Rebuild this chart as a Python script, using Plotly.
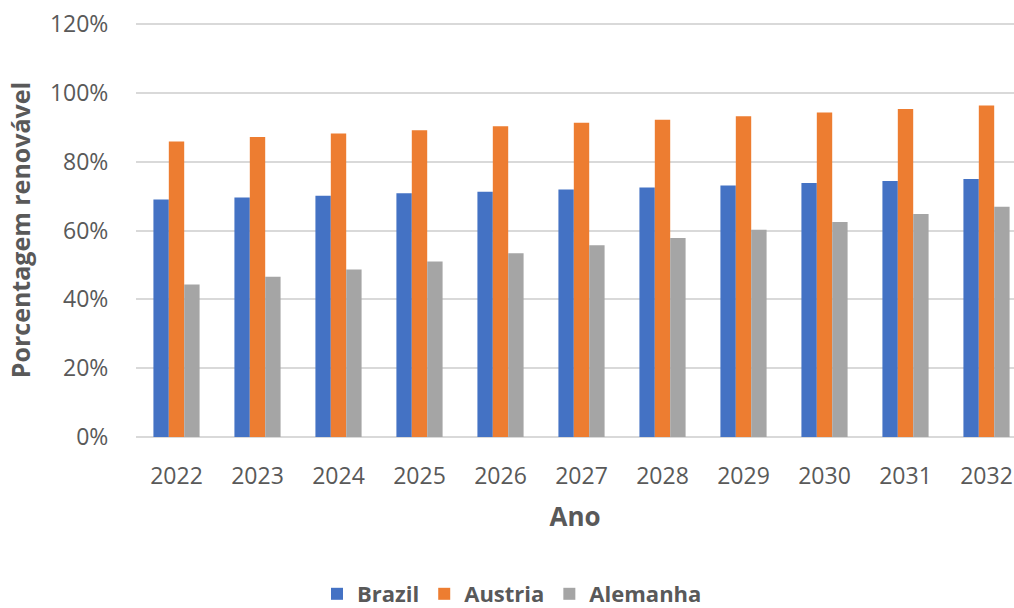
import plotly.graph_objects as go

years = ["2022", "2023", "2024", "2025", "2026", "2027", "2028", "2029", "2030", "2031", "2032"]
brazil = [69.0, 69.6, 70.1, 70.8, 71.3, 71.9, 72.5, 73.1, 73.8, 74.4, 75.0]
austria = [85.9, 87.2, 88.2, 89.1, 90.3, 91.3, 92.2, 93.2, 94.3, 95.3, 96.3]
alemanha = [44.3, 46.6, 48.7, 51.0, 53.4, 55.7, 57.8, 60.2, 62.5, 64.8, 66.9]
y_ticks = [0, 20, 40, 60, 80, 100, 120]
y_tick_labels = ["0%", "20%", "40%", "60%", "80%", "100%", "120%"]

series = [("Brazil", brazil, "#4472C4"), ("Austria", austria, "#ED7D31"), ("Alemanha", alemanha, "#A5A5A5")]

FONT = "Open Sans"
TXT = "#595959"

fig = go.Figure()
for name, vals, col in series:
    fig.add_trace(go.Bar(x=years, y=vals, name=name, marker=dict(color=col, line=dict(width=0))))

W, H = 1014, 608
L, R, T, B = 136, 0, 23, 171
plot_w = W - L - R
plot_h = H - T - B
cat_w = 81.0
fig.update_layout(
    width=W, height=H,
    margin=dict(l=L, r=R, t=T, b=B, autoexpand=False),
    paper_bgcolor="white", plot_bgcolor="white",
    barmode="group", bargap=0.43, bargroupgap=0,
    font=dict(family=FONT, color=TXT, size=23),
    showlegend=True,
    legend=dict(orientation="h", x=(512 - L) / plot_w, xanchor="center",
                y=(T + plot_h - 594) / plot_h, yanchor="middle",
                font=dict(family=FONT, size=22, color=TXT, weight="bold"),
                itemwidth=30, traceorder="normal"),
)
fig.update_xaxes(
    type="category", range=[-0.5, -0.5 + plot_w / cat_w],
    showgrid=False, showline=False, zeroline=False,
    ticks="outside", ticklen=18, tickcolor="rgba(0,0,0,0)",
    tickfont=dict(family=FONT, size=23, color=TXT),
    title=dict(text="Ano", font=dict(family=FONT, size=26, color=TXT, weight="bold"), standoff=18),
    automargin=False,
)
fig.update_yaxes(
    range=[0, 120.3], tickmode="array", tickvals=y_ticks, ticktext=y_tick_labels,
    showgrid=True, gridcolor="#D9D9D9", gridwidth=1.5,
    zeroline=True, zerolinecolor="#D9D9D9", zerolinewidth=1.5,
    showline=False,
    ticks="outside", ticklen=22, tickcolor="rgba(0,0,0,0)",
    tickfont=dict(family=FONT, size=23, color=TXT),
    title=dict(text="Porcentagem renovável", font=dict(family=FONT, size=25, color=TXT, weight="bold"), standoff=12),
    automargin=False,
)

fig.write_html("out.html")
